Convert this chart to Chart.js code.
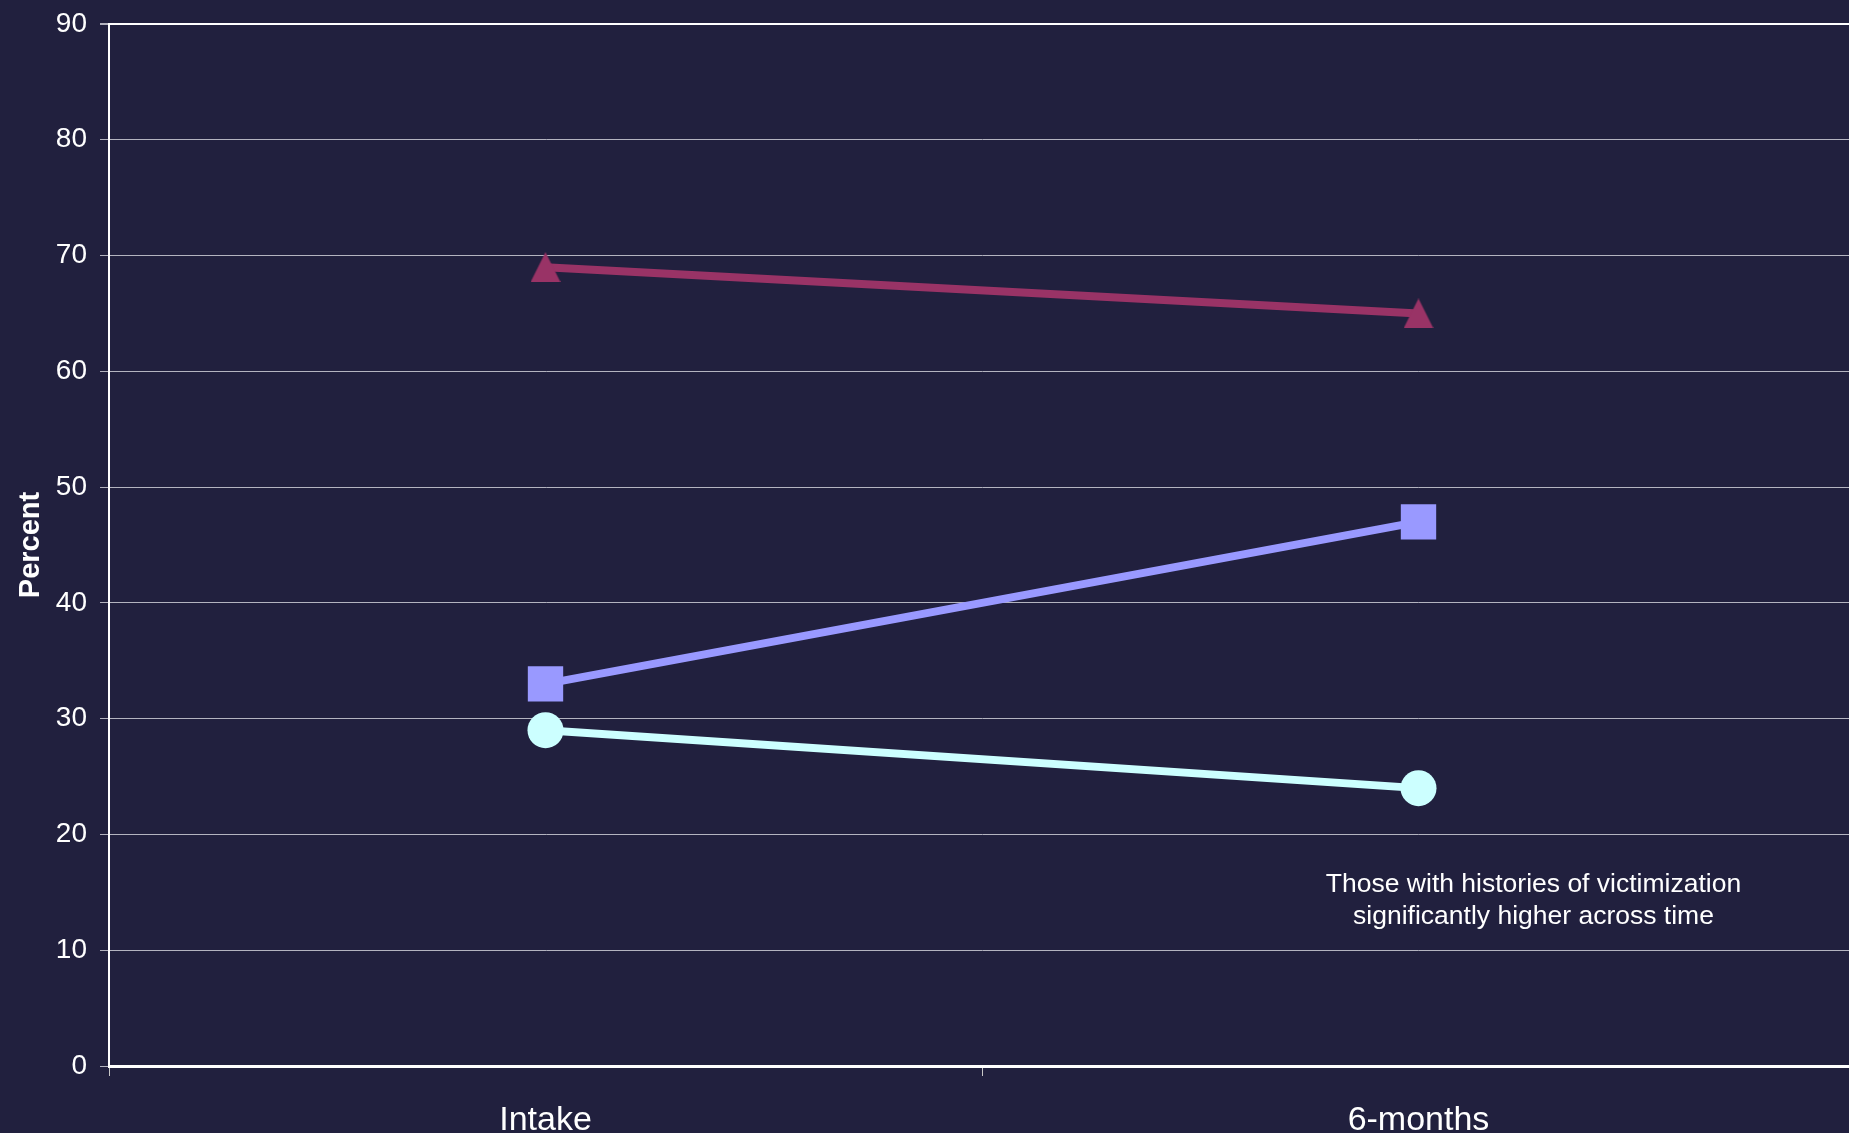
<!DOCTYPE html>
<html>
<head>
<meta charset="utf-8">
<script src="https://cdn.jsdelivr.net/npm/chart.js@4/dist/chart.umd.min.js"></script>
<style>
    html, body { margin: 0; padding: 0; background: #21203e; overflow: hidden; }
    canvas { display: block; }
</style>
</head>
<body>
<canvas id="chart" width="1855" height="1133"></canvas>
<script>
// ==================== Data ====================
const categories = ['Intake', '6-months'];
const triangleValues = [69, 65];
const squareValues = [33, 47];
const circleValues = [29, 24];
const yTicks = [0, 10, 20, 30, 40, 50, 60, 70, 80, 90];
const noteLines = ['Those with histories of victimization', 'significantly higher across time'];

const FONT = '"Liberation Sans", Arial, sans-serif';

// Triangle marker as an image (taller than Chart.js' built-in one)
function makeTriangle(color, w, h) {
    const c = document.createElement('canvas');
    c.width = w;
    c.height = h;
    const g = c.getContext('2d');
    g.fillStyle = color;
    g.beginPath();
    g.moveTo(w / 2, 0);
    g.lineTo(w, h);
    g.lineTo(0, h);
    g.closePath();
    g.fill();
    return c;
}

// Note text next to the 6-months point
const notePlugin = {
    id: 'note',
    afterDraw(chart) {
        const ctx = chart.ctx;
        const xs = chart.scales.x;
        const ys = chart.scales.y;
        const cx = xs.getPixelForValue(1) + 115;
        const y0 = ys.getPixelForValue(15.7);
        ctx.save();
        ctx.fillStyle = '#ffffff';
        ctx.font = '26.5px ' + FONT;
        ctx.textAlign = 'center';
        ctx.textBaseline = 'middle';
        noteLines.forEach((line, i) => ctx.fillText(line, cx, y0 + i * 32));
        ctx.restore();
    }
};

function series(data, color, style, radius) {
    return {
        data,
        borderColor: color,
        backgroundColor: color,
        borderWidth: 8,
        pointStyle: style,
        pointRadius: radius,
        pointHoverRadius: radius,
        pointBackgroundColor: color,
        pointBorderWidth: 0,
        tension: 0
    };
}

new Chart(document.getElementById('chart'), {
    type: 'line',
    data: {
        labels: categories,
        datasets: [
            series(triangleValues, '#993366', makeTriangle('#993366', 30, 30), 18),
            series(squareValues, '#9999ff', 'rect', 25),
            series(circleValues, '#ccffff', 'circle', 18)
        ]
    },
    options: {
        responsive: false,
        animation: false,
        devicePixelRatio: 1,
        layout: { autoPadding: false, padding: { top: 24, right: 0, left: 0, bottom: 0 } },
        scales: {
            x: {
                type: 'category',
                offset: true,
                afterFit: s => { s.height = 67; },
                grid: {
                    offset: true,
                    drawOnChartArea: false,
                    drawTicks: true,
                    tickLength: 10,
                    tickColor: '#c8c8c8',
                    tickWidth: 1
                },
                border: { color: '#ffffff', width: 3 },
                ticks: {
                    color: '#ffffff',
                    font: { family: FONT, size: 34, lineHeight: 1 },
                    padding: 28,
                    maxRotation: 0
                }
            },
            y: {
                min: 0,
                max: 90,
                afterBuildTicks: s => { s.ticks = yTicks.map(v => ({ value: v })); },
                afterFit: s => { s.width = 109; s.paddingTop = 0; s.paddingBottom = 0; },
                grid: {
                    color: c => c.tick && c.tick.value === 90 ? '#ffffff' : '#b4b4c0',
                    lineWidth: c => c.tick && c.tick.value === 90 ? 2 : 1,
                    tickLength: 9,
                    tickColor: '#b4b4c0'
                },
                border: { color: '#ffffff', width: 2 },
                ticks: {
                    color: '#ffffff',
                    font: { family: FONT, size: 28 },
                    padding: 13
                },
                title: {
                    display: true,
                    text: 'Percent',
                    color: '#ffffff',
                    font: { family: FONT, size: 29, weight: 'bold' },
                    padding: { top: 14, bottom: 0 }
                }
            }
        },
        plugins: {
            legend: { display: false },
            tooltip: { enabled: false }
        }
    },
    plugins: [notePlugin]
});
</script>
</body>
</html>
